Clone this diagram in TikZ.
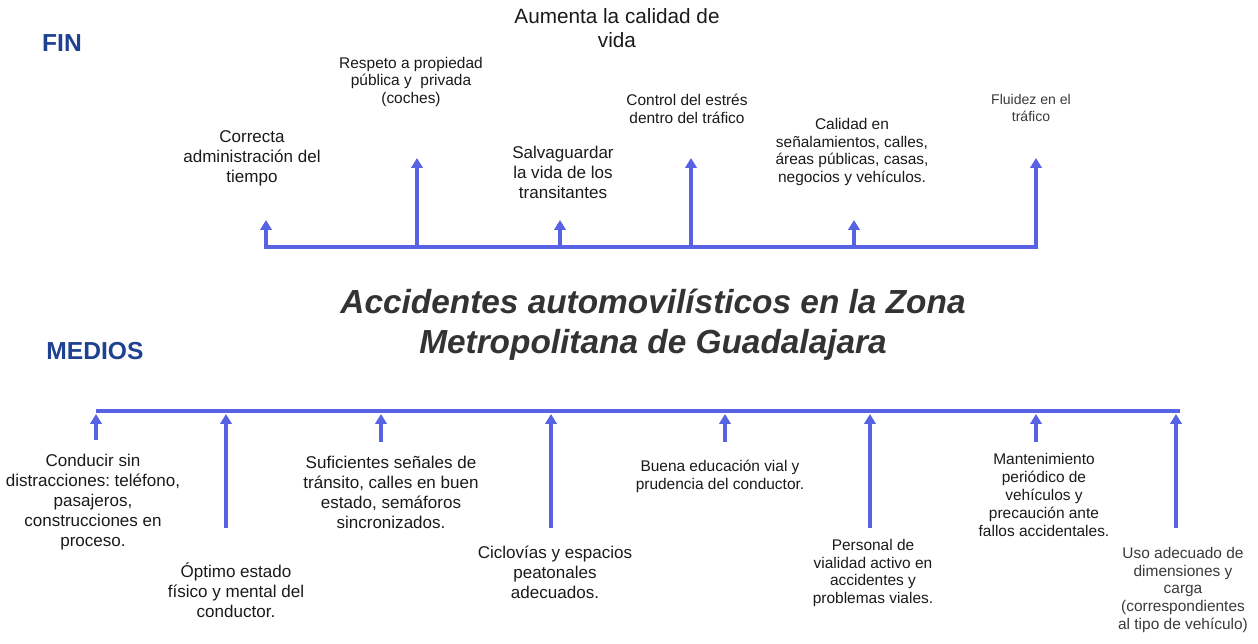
\documentclass[tikz,border=0pt]{standalone}
\usepackage{fontspec}
\setmainfont{Liberation Sans}
\usepackage{xcolor}
\usetikzlibrary{arrows.meta}
\frenchspacing

\definecolor{azulflecha}{HTML}{5862E4}
\definecolor{azultitulo}{HTML}{1F4191}
\definecolor{grisoscuro}{HTML}{333333}
\definecolor{textonegro}{HTML}{1A1A1A}
\definecolor{textogris}{HTML}{3A3A3A}

\begin{document}
\begin{tikzpicture}[x=0.02cm, y=-0.02cm,
    flecha/.style={azulflecha, line width=2pt, -{Triangle[width=6.4pt,length=5.6pt]}},
    barra/.style={azulflecha, line width=2pt},
    texto/.style={inner sep=0pt, align=center, text=textonegro, font=\fontsize{9.7}{11.4}\selectfont},
    textop/.style={inner sep=0pt, align=center, text=textonegro, font=\fontsize{8.8}{10.2}\selectfont},
    etiqueta/.style={inner sep=0pt, text=azultitulo, font=\fontsize{14}{16}\selectfont\bfseries}]
  \useasboundingbox (0,0) rectangle (1258,644);

  % encabezados
  \node[etiqueta] (fin) at (62,43) {FIN};
  \node[etiqueta] (medios) at (95,351) {MEDIOS};

  \node[inner sep=0pt, align=center, text=textonegro, font=\fontsize{11.8}{13.6}\selectfont] (aumenta) at (617,28) {Aumenta la calidad de\\vida};

  \node[inner sep=0pt, align=center, text=grisoscuro, font=\fontsize{19}{22.7}\selectfont\bfseries\itshape] (problema) at (653,325)
    {Accidentes automovilísticos en la Zona\\Metropolitana de Guadalajara};

  % fines
  \node[textop] (respeto) at (411,82) {Respeto a propiedad\\pública y\ \ privada\\(coches)};
  \node[texto] (correcta) at (252,158) {Correcta\\administración del\\tiempo};
  \node[texto] (salvaguardar) at (563,172) {Salvaguardar\\la vida de los\\transitantes};
  \node[textop] (control) at (687,109) {Control del estrés\\dentro del tráfico};
  \node[textop] (calidad) at (852,152) {Calidad en\\señalamientos, calles,\\áreas públicas, casas,\\negocios y vehículos.};
  \node[inner sep=0pt, align=center, text=textogris, font=\fontsize{8}{9.2}\selectfont] (fluidez) at (1031,108) {Fluidez en el\\tráfico};

  \foreach \i/\x/\yt in {1/266/220, 2/417/158, 3/560/220, 4/691/158, 5/854/220, 6/1036/158} {
    \coordinate (fb\i) at (\x,247);
    \coordinate (ft\i) at (\x,\yt);
  }
  \draw[barra, line join=miter, {Triangle[width=6.4pt,length=5.6pt]}-{Triangle[width=6.4pt,length=5.6pt]}]
    (ft1) -- (fb1) -- (fb6) -- (ft6);
  \foreach \i in {2,3,4,5}
    \draw[flecha] (fb\i) -- (ft\i);

  % medios
  \node[texto] (conducir) at (93,502) {Conducir sin\\distracciones: teléfono,\\pasajeros,\\construcciones en\\proceso.};
  \node[texto] (optimo) at (236,590) {Óptimo estado\\físico y mental del\\conductor.};
  \node[texto] (suficientes) at (391,492) {Suficientes señales de\\tránsito, calles en buen\\estado, semáforos\\sincronizados.};
  \node[texto] (ciclovias) at (555,572) {Ciclovías y espacios\\peatonales\\adecuados.};
  \node[textop] (buena) at (720,476) {Buena educación vial y\\prudencia del conductor.};
  \node[textop] (personal) at (873,573) {Personal de\\vialidad activo en\\accidentes y\\problemas viales.};
  \node[textop] (mantenimiento) at (1044,495) {Mantenimiento\\periódico de\\vehículos y\\precaución ante\\fallos accidentales.};
  \node[textop, text=textogris] (uso) at (1183,590) {Uso adecuado de\\dimensiones y\\carga\\(correspondientes\\al tipo de vehículo)};

  \coordinate (mi) at (96,411);
  \coordinate (md) at (1180,411);
  \draw[barra] (mi) -- (md);

  \foreach \i/\x/\yb in {1/96/440, 2/226/528, 3/381/442, 4/551/528, 5/725/442, 6/870/528, 7/1036/442, 8/1176/528} {
    \coordinate (mb\i) at (\x,\yb);
    \coordinate (mt\i) at (\x,414);
    \draw[flecha] (mb\i) -- (mt\i);
  }
\end{tikzpicture}
\end{document}
